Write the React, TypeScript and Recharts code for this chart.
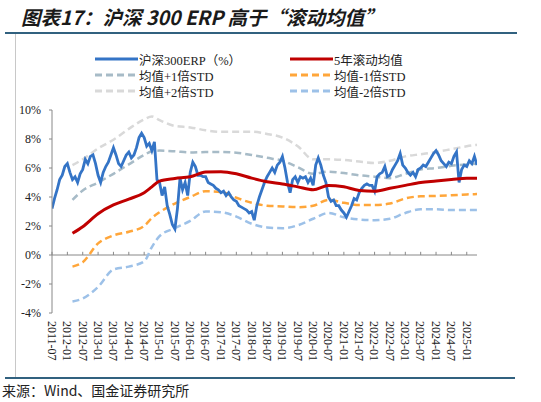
import React from 'react';
import { LineChart, Line, XAxis, YAxis, ReferenceLine } from 'recharts';

// 沪深300 ERP, monthly from 2011-07 (%)
const erpValues = [
  3.2, 3.9, 4.5, 5.2, 5.5, 6.1, 6.3, 5.7, 5.2, 5.4, 5.0, 5.6,
  5.9, 6.6, 6.3, 6.8, 6.9, 6.3, 5.5, 5.0, 5.7, 6.1, 6.4, 6.9,
  7.4, 6.9, 6.3, 6.1, 6.5, 6.9, 7.1, 6.7, 6.9, 7.4, 8.1, 8.4,
  8.1, 7.5, 7.7, 7.2, 7.8, 5.2, 5.0, 4.1, 4.7, 3.4, 2.8, 2.1,
  1.8, 3.2, 5.3, 4.5, 5.0, 4.1, 5.7, 6.4, 6.1, 5.5, 5.5, 5.4,
  5.4, 5.0, 4.9, 4.8, 4.6, 4.5, 4.3, 4.4, 4.1, 4.3, 4.0, 3.8,
  3.7, 3.4, 3.3, 3.2, 3.1, 2.9, 3.0, 2.4, 3.4, 4.0, 4.5, 5.0,
  5.4, 5.7, 6.0, 5.7, 6.2, 6.4, 6.8, 6.0, 5.0, 4.3, 5.2, 5.4,
  5.0, 5.4, 5.3, 5.4, 5.0, 5.3, 4.8, 6.2, 6.7, 6.2, 5.5, 5.0,
  4.0, 3.7, 3.8, 3.4, 3.4, 3.1, 2.9, 2.6, 3.0, 3.4, 3.9, 3.8,
  4.3, 4.6, 4.8, 4.9, 4.8, 4.8, 4.4, 5.4, 5.6, 5.7, 6.1, 5.4,
  5.5, 5.9, 6.2, 6.5, 7.0, 6.2, 6.0, 5.7, 5.5, 5.7, 5.4, 5.9,
  6.0, 6.2, 6.1, 6.4, 6.7, 7.0, 7.2, 6.9, 6.5, 6.3, 6.1, 6.4,
  6.3, 6.8, 7.1, 5.0, 5.9, 6.2, 6.1, 6.5, 6.3, 6.8, 6.2,
];

// months since 2011-07 at which the rolling bands were read
const bandMonths = [8, 12, 18, 24, 30, 36, 39, 42, 48, 54, 60, 66, 72, 78, 84, 90, 96, 102, 108, 114, 120, 126, 132, 138, 144, 150, 156, 162, 166];
const meanValues = [1.5, 1.95, 2.85, 3.45, 3.85, 4.3, 4.7, 5.1, 5.28, 5.4, 5.72, 5.75, 5.6, 5.3, 5.05, 4.9, 4.7, 4.5, 4.8, 4.7, 4.45, 4.4, 4.6, 4.8, 5.0, 5.1, 5.2, 5.3, 5.3];
const plus1Values = [3.8, 4.45, 5.0, 5.6, 6.25, 6.9, 7.15, 7.2, 7.15, 7.07, 7.1, 7.1, 7.05, 6.9, 6.7, 6.5, 6.05, 5.6, 5.75, 5.65, 5.5, 5.4, 5.3, 5.6, 5.9, 6.0, 6.15, 6.25, 6.3];
const minus1Values = [-0.8, -0.5, 0.8, 1.35, 1.6, 2.0, 2.55, 2.95, 3.55, 4.0, 4.4, 4.35, 3.95, 3.6, 3.4, 3.35, 3.3, 3.4, 3.8, 3.6, 3.45, 3.45, 3.55, 3.9, 4.05, 4.07, 4.12, 4.18, 4.2];
const plus2Values = [6.2, 6.6, 7.35, 7.95, 8.7, 9.35, 9.55, 9.3, 8.9, 8.8, 8.6, 8.5, 8.5, 8.5, 8.35, 8.1, 7.5, 6.6, 6.6, 6.55, 6.45, 6.35, 6.5, 6.8, 6.95, 7.1, 7.3, 7.5, 7.6];
const minus2Values = [-3.2, -3.0, -2.2, -1.0, -0.8, -0.45, 0.55, 1.3, 1.85, 2.35, 3.0, 2.95, 2.65, 2.15, 1.9, 1.85, 2.05, 2.5, 2.9, 2.6, 2.45, 2.4, 2.5, 2.9, 3.15, 3.15, 3.1, 3.1, 3.1];

const tickLabels = [
  '2011-07', '2012-01', '2012-07', '2013-01', '2013-07', '2014-01', '2014-07',
  '2015-01', '2015-07', '2016-01', '2016-07', '2017-01', '2017-07', '2018-01',
  '2018-07', '2019-01', '2019-07', '2020-01', '2020-07', '2021-01', '2021-07',
  '2022-01', '2022-07', '2023-01', '2023-07', '2024-01', '2024-07', '2025-01',
];
const yTicks = [-4, -2, 0, 2, 4, 6, 8, 10];

const tickMonths = tickLabels.map((_, i) => i * 6);
const erpData = erpValues.map((v, i) => ({ m: i, v }));
const bandData = bandMonths.map((m, i) => ({
  m,
  mean: meanValues[i],
  up1: plus1Values[i],
  dn1: minus1Values[i],
  up2: plus2Values[i],
  dn2: minus2Values[i],
}));

const serif = '"Times New Roman", "Liberation Serif", "Noto Sans CJK SC", serif';
const dash = '7 4';

const series = [
  { name: '沪深300ERP（%）', color: '#3474C6', dashed: false },
  { name: '5年滚动均值', color: '#C00000', dashed: false },
  { name: '均值+1倍STD', color: '#A7BBC7', dashed: true },
  { name: '均值-1倍STD', color: '#FFA63A', dashed: true },
  { name: '均值+2倍STD', color: '#D9D9D9', dashed: true },
  { name: '均值-2倍STD', color: '#9DC1E8', dashed: true },
];

const DateTick = (props: any) => {
  const { x, y, payload } = props;
  const label = tickLabels[Math.round(payload.value / 6)];
  return (
    <text
      x={x}
      y={y}
      dy="0.35em"
      transform={`rotate(90, ${x}, ${y})`}
      textAnchor="start"
      fontSize={12}
      fontFamily={serif}
      fill="#222"
    >
      {label}
    </text>
  );
};

const ChartLegend = () => (
  <div style={{ position: 'absolute', left: 95, top: 51, width: 340 }}>
    {series.map((s, i) => (
      <div
        key={s.name}
        style={{
          position: 'absolute',
          left: i % 2 === 0 ? 0 : 195,
          top: Math.floor(i / 2) * 16,
          display: 'flex',
          alignItems: 'center',
          height: 16,
          whiteSpace: 'nowrap',
        }}
      >
        <svg width={43} height={6} style={{ marginRight: 1 }}>
          <line
            x1={0}
            y1={3}
            x2={43}
            y2={3}
            stroke={s.color}
            strokeWidth={3}
            strokeDasharray={s.dashed ? dash : undefined}
          />
        </svg>
        <span style={{ fontSize: 12.5, fontFamily: serif, color: '#222' }}>{s.name}</span>
      </div>
    ))}
  </div>
);

export default function App() {
  return (
    <div style={{ position: 'absolute', left: 0, top: 0, width: 541, height: 402, background: '#fff', overflow: 'hidden' }}>
      <div
        style={{
          position: 'absolute',
          left: 21,
          top: 2,
          fontSize: 19.5,
          fontWeight: 'bold',
          fontStyle: 'italic',
          fontFamily: '"Noto Sans CJK SC", sans-serif',
          color: '#1a1a1a',
          whiteSpace: 'nowrap',
        }}
      >
        图表17：沪深 300 ERP 高于“滚动均值”
      </div>
      <div style={{ position: 'absolute', left: 5, top: 32, width: 512, height: 2, background: '#31617F' }} />
      <div style={{ position: 'absolute', left: 15, top: 34, width: 1, height: 343, background: '#C8C8C8' }} />
      <div style={{ position: 'absolute', left: 5, top: 377, width: 510, height: 2, background: '#31617F' }} />
      <div
        style={{
          position: 'absolute',
          left: 2,
          top: 380,
          fontSize: 14,
          fontFamily: '"Noto Sans CJK SC", sans-serif',
          color: '#222',
          whiteSpace: 'nowrap',
        }}
      >
        来源：Wind、国金证券研究所
      </div>
      <ChartLegend />
      <div style={{ position: 'absolute', left: 0, top: 0 }}>
        <LineChart width={541} height={402} margin={{ top: 110, right: 64, bottom: 29, left: 0 }}>
          <XAxis
            type="number"
            dataKey="m"
            domain={[0, 166]}
            ticks={tickMonths}
            interval={0}
            tick={<DateTick />}
            axisLine={false}
            tickLine={false}
            height={60}
            allowDataOverflow
          />
          <YAxis
            type="number"
            domain={[-4, 10]}
            ticks={yTicks}
            interval={0}
            width={52}
            tickFormatter={(v: number) => `${v}%`}
            tick={{ fontSize: 12, fontFamily: serif, fill: '#222' }}
            axisLine={{ stroke: '#888' }}
            tickLine={{ stroke: '#888' }}
            tickSize={3}
            tickMargin={8}
            allowDataOverflow
          />
          <ReferenceLine y={0} stroke="#888" strokeWidth={1} />
          {tickMonths.map((m) => (
            <ReferenceLine
              key={m}
              segment={[{ x: m, y: 0 }, { x: m, y: 0.22 }]}
              stroke="#888"
              strokeWidth={1}
            />
          ))}
          <Line data={bandData} dataKey="up2" type="monotone" stroke={series[4].color} strokeWidth={2.5} strokeDasharray={dash} dot={false} isAnimationActive={false} />
          <Line data={bandData} dataKey="dn2" type="monotone" stroke={series[5].color} strokeWidth={2.5} strokeDasharray={dash} dot={false} isAnimationActive={false} />
          <Line data={bandData} dataKey="up1" type="monotone" stroke={series[2].color} strokeWidth={2.5} strokeDasharray={dash} dot={false} isAnimationActive={false} />
          <Line data={bandData} dataKey="dn1" type="monotone" stroke={series[3].color} strokeWidth={2.5} strokeDasharray={dash} dot={false} isAnimationActive={false} />
          <Line data={erpData} dataKey="v" type="linear" stroke={series[0].color} strokeWidth={2.8} dot={false} isAnimationActive={false} />
          <Line data={bandData} dataKey="mean" type="monotone" stroke={series[1].color} strokeWidth={3} dot={false} isAnimationActive={false} />
        </LineChart>
      </div>
    </div>
  );
}
